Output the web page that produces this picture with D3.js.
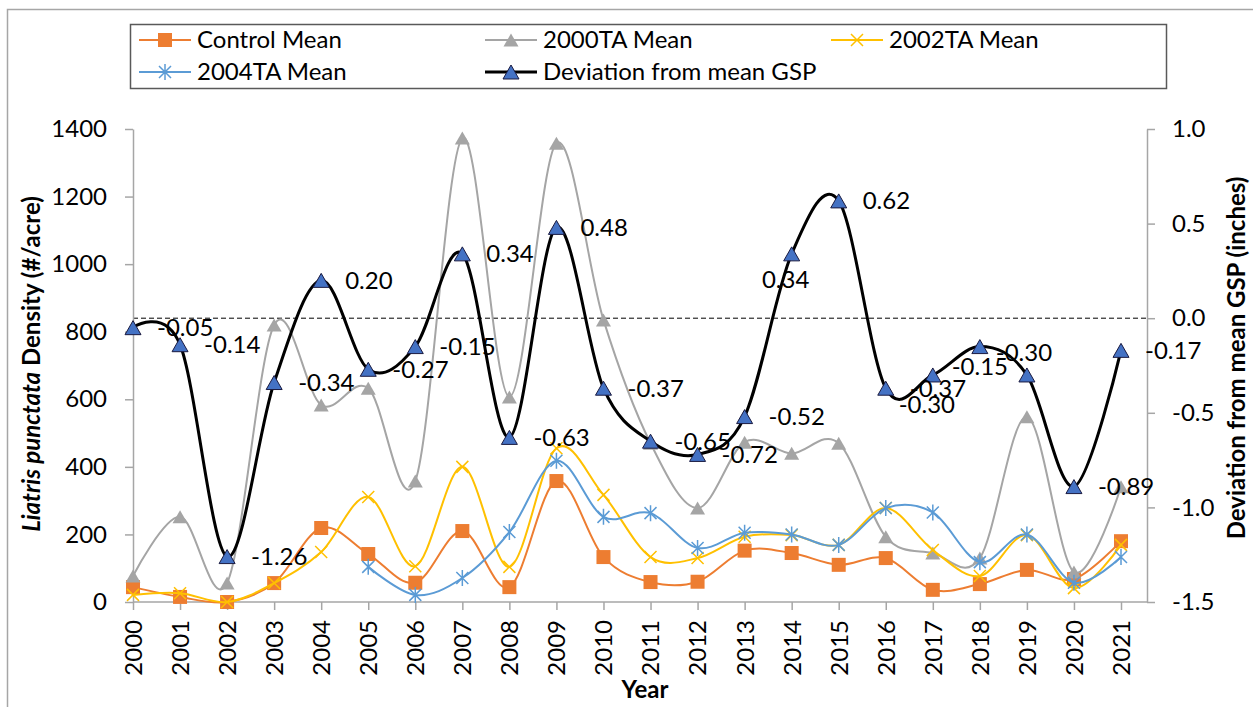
<!DOCTYPE html>
<html>
<head>
<meta charset="utf-8">
<title>Liatris punctata density</title>
<style>
  body { margin: 0; background: #fff; }
  text { font-family: Lato, "Open Sans", sans-serif; }
</style>
</head>
<body>
<div id="chart"></div>
<script src="https://d3js.org/d3.v7.min.js"></script>
<script>
// chart values
const years = ['2000','2001','2002','2003','2004','2005','2006','2007','2008','2009','2010',
               '2011','2012','2013','2014','2015','2016','2017','2018','2019','2020','2021'];
const controlMean = [44, 15, 0, 56, 219, 142, 57, 210, 44, 358, 133, 59, 60, 152, 145, 110, 130, 36, 53, 95, 68, 180];
const ta2000Mean  = [77, 252, 56, 820, 583, 633, 358, 1373, 607, 1358, 835, 470, 278, 473, 440, 470, 193, 145, 130, 548, 89, 341];
const ta2002Mean  = [21, 26, 0, 56, 148, 311, 106, 400, 104, 455, 317, 133, 130, 193, 198, 169, 278, 154, 77, 198, 41, 169];
const ta2004Mean  = [null, null, null, null, null, 104, 21, 71, 207, 418, 252, 263, 160, 205, 200, 169, 278, 265, 118, 200, 57, 133];
const deviation   = [-0.05, -0.14, -1.26, -0.34, 0.20, -0.27, -0.15, 0.34, -0.63, 0.48, -0.37, -0.65, -0.72, -0.52, 0.34, 0.62, -0.37, -0.30, -0.15, -0.30, -0.89, -0.17];
const leftTicks  = [0, 200, 400, 600, 800, 1000, 1200, 1400];
const rightTicks = [-1.5, -1.0, -0.5, 0.0, 0.5, 1.0];

// label placement tweaks (by year index), everything else goes to the right
const labelPlace = {14: 'below', 17: 'below', 18: 'below', 19: 'above'};

const W = 1253, H = 707;
const plot = {left: 133, right: 1147, top: 129, bottom: 602};
const fontSize = '24px';

const svg = d3.select('#chart').append('svg').attr('width', W).attr('height', H);

// outer chart frame (cut by the picture edge)
svg.append('rect').attr('x', 7.5).attr('y', 9.5).attr('width', 1300).attr('height', 800)
  .attr('fill', 'none').attr('stroke', '#a6a6a6').attr('stroke-width', 1.5);

const x = d3.scalePoint().domain(years).range([plot.left, 1121]);
const yL = d3.scaleLinear().domain([0, 1400]).range([plot.bottom, plot.top]);
const yR = d3.scaleLinear().domain([-1.5, 1.0]).range([plot.bottom, plot.top]);

const axisColor = '#a6a6a6';

// zero line of the secondary axis
svg.append('line')
  .attr('x1', plot.left).attr('x2', plot.right)
  .attr('y1', yR(0)).attr('y2', yR(0))
  .attr('stroke', '#000').attr('stroke-width', 1).attr('stroke-dasharray', '5,3');

// left axis
const gL = svg.append('g').attr('transform', 'translate(' + plot.left + ',0)')
  .call(d3.axisLeft(yL).tickValues(leftTicks).tickSize(8).tickPadding(18).tickSizeOuter(0)
    .tickFormat(d3.format('d')));
// right axis
const gR = svg.append('g').attr('transform', 'translate(' + plot.right + ',0)')
  .call(d3.axisRight(yR).tickValues(rightTicks).tickSize(8).tickPadding(17).tickSizeOuter(0)
    .tickFormat(d => d.toFixed(1)));
// bottom axis
const gB = svg.append('g').attr('transform', 'translate(0,' + plot.bottom + ')')
  .call(d3.axisBottom(x).tickSize(8).tickSizeOuter(0));
gB.select('.domain').remove();
gB.append('line').attr('x1', plot.left).attr('x2', plot.right)
  .attr('stroke', axisColor).attr('stroke-width', 1.5);
gB.selectAll('.tick text')
  .attr('transform', 'rotate(-90)')
  .attr('x', -18).attr('y', 0).attr('dy', '0.35em')
  .attr('text-anchor', 'end');

[gL, gR, gB].forEach(g => {
  g.selectAll('.domain').attr('stroke', axisColor).attr('stroke-width', 1.5);
  g.selectAll('.tick line').attr('stroke', axisColor).attr('stroke-width', 1.5);
  g.selectAll('.tick text').attr('fill', '#000').style('font-size', fontSize)
    .style('font-family', 'Lato, "Open Sans", sans-serif');
});

// axis titles
const leftTitle = svg.append('text')
  .attr('transform', 'translate(40,364) rotate(-90)')
  .attr('text-anchor', 'middle')
  .style('font-size', fontSize).style('font-weight', 'bold');
leftTitle.append('tspan').style('font-style', 'italic').text('Liatris punctata');
leftTitle.append('tspan').text(' Density (#/acre)');

svg.append('text')
  .attr('transform', 'translate(1245,358) rotate(-90)')
  .attr('text-anchor', 'middle')
  .style('font-size', fontSize).style('font-weight', 'bold')
  .text('Deviation from mean GSP (inches)');

svg.append('text')
  .attr('x', 645).attr('y', 698)
  .attr('text-anchor', 'middle')
  .style('font-size', fontSize).style('font-weight', 'bold')
  .text('Year');

// marker helpers
function triPath(w, h) {
  return 'M0,' + (-h / 2) + 'L' + (w / 2) + ',' + (h / 2) + 'L' + (-w / 2) + ',' + (h / 2) + 'Z';
}
function drawMarker(g, type, color) {
  if (type === 'square') {
    g.append('rect').attr('x', -7).attr('y', -7).attr('width', 14).attr('height', 14)
      .attr('fill', color);
  } else if (type === 'triangle') {
    g.append('path').attr('d', triPath(15, 13)).attr('fill', color);
  } else if (type === 'x') {
    g.append('path').attr('d', 'M-6,-6L6,6M-6,6L6,-6')
      .attr('stroke', color).attr('stroke-width', 1.5).attr('fill', 'none');
  } else if (type === 'star') {
    g.append('path').attr('d', 'M-6,-6L6,6M-6,6L6,-6M0,-8L0,8')
      .attr('stroke', color).attr('stroke-width', 1.5).attr('fill', 'none');
  } else if (type === 'devtri') {
    g.append('path').attr('d', triPath(16, 14)).attr('fill', '#4472C4')
      .attr('stroke', '#1a1a40').attr('stroke-width', 1);
  }
}

const series = [
  {name: 'Control Mean', values: controlMean, color: '#ED7D31', marker: 'square'},
  {name: '2000TA Mean', values: ta2000Mean, color: '#A5A5A5', marker: 'triangle'},
  {name: '2002TA Mean', values: ta2002Mean, color: '#FFC000', marker: 'x'},
  {name: '2004TA Mean', values: ta2004Mean, color: '#5B9BD5', marker: 'star'}
];

const lineL = d3.line()
  .defined(d => d.v != null)
  .x(d => x(d.year)).y(d => yL(d.v))
  .curve(d3.curveCardinal.tension(0));

series.forEach(s => {
  const pts = years.map((yr, i) => ({year: yr, v: s.values[i]}));
  const g = svg.append('g');
  g.append('path').datum(pts).attr('d', lineL)
    .attr('fill', 'none').attr('stroke', s.color).attr('stroke-width', 2);
  g.selectAll('g.m').data(pts.filter(d => d.v != null)).enter()
    .append('g').attr('class', 'm')
    .attr('transform', d => 'translate(' + x(d.year) + ',' + yL(d.v) + ')')
    .each(function() { drawMarker(d3.select(this), s.marker, s.color); });
});

// deviation from mean GSP, secondary axis
const devPts = years.map((yr, i) => ({year: yr, v: deviation[i], i: i}));
const lineR = d3.line().x(d => x(d.year)).y(d => yR(d.v)).curve(d3.curveCardinal.tension(0));
const gDev = svg.append('g');
gDev.append('path').datum(devPts).attr('d', lineR)
  .attr('fill', 'none').attr('stroke', '#000').attr('stroke-width', 3);
gDev.selectAll('g.m').data(devPts).enter()
  .append('g').attr('class', 'm')
  .attr('transform', d => 'translate(' + x(d.year) + ',' + yR(d.v) + ')')
  .each(function() { drawMarker(d3.select(this), 'devtri'); });

// data labels
gDev.selectAll('text.lbl').data(devPts).enter()
  .append('text').attr('class', 'lbl')
  .attr('x', d => {
    const p = labelPlace[d.i];
    if (p === 'below') return x(d.year) + (d.i === 18 ? 0 : -6);
    if (p === 'above') return x(d.year) - 3;
    return x(d.year) + 24;
  })
  .attr('y', d => {
    const p = labelPlace[d.i];
    if (p === 'below') return yR(d.v) + (d.i === 17 ? 30 : d.i === 18 ? 20 : 26);
    if (p === 'above') return yR(d.v) - 22;
    return yR(d.v);
  })
  .attr('dy', '0.35em')
  .attr('text-anchor', d => labelPlace[d.i] ? 'middle' : 'start')
  .style('font-size', fontSize).attr('fill', '#000')
  .text(d => d.v.toFixed(2));

// legend
const legend = svg.append('g');
legend.append('rect').attr('x', 130.5).attr('y', 24.5).attr('width', 1036).attr('height', 64)
  .attr('fill', '#fff').attr('stroke', '#595959').attr('stroke-width', 1.5);

const legendItems = [
  {name: 'Control Mean', color: '#ED7D31', marker: 'square', col: 0, row: 0},
  {name: '2000TA Mean', color: '#A5A5A5', marker: 'triangle', col: 1, row: 0},
  {name: '2002TA Mean', color: '#FFC000', marker: 'x', col: 2, row: 0},
  {name: '2004TA Mean', color: '#5B9BD5', marker: 'star', col: 0, row: 1},
  {name: 'Deviation from mean GSP', color: '#000', marker: 'devtri', col: 1, row: 1}
];
legendItems.forEach(it => {
  const lx = 139 + it.col * 346, ly = 40 + it.row * 32;
  const g = legend.append('g').attr('transform', 'translate(' + lx + ',' + ly + ')');
  g.append('line').attr('x1', 0).attr('x2', 52).attr('stroke', it.color)
    .attr('stroke-width', it.marker === 'devtri' ? 3 : 2);
  const mg = g.append('g').attr('transform', 'translate(26,0)');
  drawMarker(mg, it.marker, it.color);
  g.append('text').attr('x', 58).attr('dy', '0.35em')
    .style('font-size', fontSize).attr('fill', '#000').text(it.name);
});
</script>
</body>
</html>
